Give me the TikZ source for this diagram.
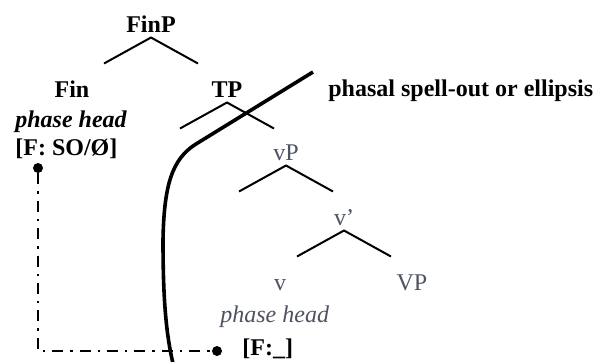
\documentclass[tikz,border=0pt]{standalone}
\usepackage{fontspec}
\setmainfont{Liberation Serif}
\definecolor{lowgray}{RGB}{78,82,98}
\tikzset{
  lbl/.style={anchor=base, inner sep=0pt, font=\fontsize{12}{14}\selectfont\bfseries},
  headlbl/.style={lbl, anchor=base west, font=\fontsize{12}{14}\selectfont\bfseries\itshape},
  lowlbl/.style={anchor=base, inner sep=0pt, text=lowgray, font=\fontsize{12}{14}\selectfont},
  branch/.style={line width=1pt},
  spellout/.style={line width=1.8pt},
  feature/.style={line width=1.4pt, dash pattern=on 5.5pt off 3.5pt on 1.2pt off 3.5pt},
  fdot/.style={circle, fill, inner sep=0pt, minimum size=5pt},
}
% two daughters hanging under a label
\newcommand{\branches}[1]{%
  \draw[branch] (#1.base) ++(0,5.5) coordinate (#1-top) ++(-47,26) -- (#1-top) -- ++(47,26);}

\begin{document}
\begin{tikzpicture}[x=0.5pt, y=-0.5pt]
  \useasboundingbox (0,0) rectangle (594,361);

  % Upper tree
  \node[lbl] (finp) at (151,32) {FinP};
  \node[lbl] (fin) at (72,97) {Fin};
  \node[lbl] (tp) at (227,97) {TP};
  \node[headlbl] (finhead) at (15,127) {phase head};
  \node[lbl, anchor=base west] (fso) at (15,155) {[F: SO/Ø]};
  \node[lbl, anchor=base west] (spell) at (328,96) {phasal spell-out or ellipsis};
  \branches{finp}
  \branches{tp}

  % Lower tree
  \node[lowlbl] (vp) at (286,160) {vP};
  \node[lowlbl] (vbar) at (344,225) {v’};
  \node[lowlbl] (v) at (280,290) {v};
  \node[lowlbl] (bigvp) at (412,290) {VP};
  \node[lowlbl, anchor=base west, font=\fontsize{12}{14}\selectfont\itshape] (vhead) at (220,322) {phase head};
  \node[lbl, anchor=base west] (fgap) at (242,355) {[F:\_]};
  \branches{vp}
  \branches{vbar}

  % Spell-out boundary
  \draw[spellout] (313,72) -- (196,144) .. controls (172,159) and (164,185) .. (163,240)
    .. controls (163,300) and (166,340) .. (176,375);

  % Feature valuation
  \node[fdot] (sodot) at (38,168) {};
  \node[fdot] (gapdot) at (217,351) {};
  \draw[feature] (sodot) |- (gapdot);

\end{tikzpicture}
\end{document}
